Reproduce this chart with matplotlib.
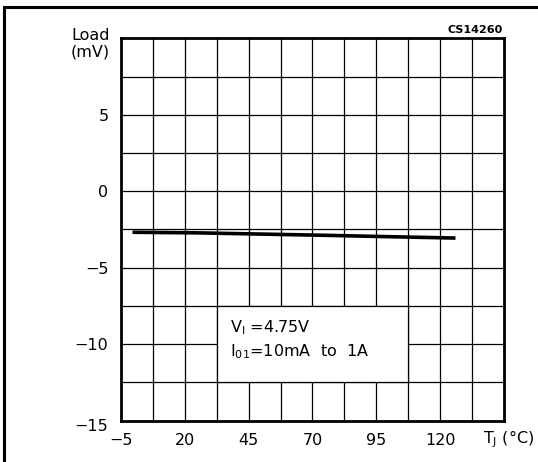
import numpy as np
import matplotlib
matplotlib.use('Agg')
import matplotlib.pyplot as plt
import matplotlib.transforms as mtransforms
from matplotlib.patches import Rectangle

# Load regulation vs junction temperature
tj = [-0.5, 25, 50, 75, 100, 126]
load_mv = [-2.68, -2.72, -2.80, -2.88, -2.97, -3.06]

x_ticks = [-5, 20, 45, 70, 95, 120]
y_ticks = [-15, -10, -5, 0, 5]
x_grid = np.arange(-5, 145.1, 12.5)
y_grid = np.arange(-15, 10.1, 2.5)

plt.rcParams['font.family'] = ['DejaVu Sans']

fig = plt.figure(figsize=(5.38, 4.62), dpi=100)
ax = fig.add_axes([0.2249, 0.0894, 0.9368 - 0.2249, 0.9171 - 0.0894])

# outer frame
fig.patches.append(Rectangle((4 / 538, -0.05), 1.2, (462 - 7) / 462 + 0.05,
                             transform=fig.transFigure, fill=False,
                             edgecolor="black", lw=2.2))

ax.set_xlim(-5, 145)
ax.set_ylim(-15, 10)
for g in x_grid[1:-1]:
    ax.axvline(g, color="black", lw=0.9, zorder=1)
for g in y_grid[1:-1]:
    ax.axhline(g, color="black", lw=0.9, zorder=1)

ax.plot(tj, load_mv, color="black", lw=2.6, solid_capstyle="butt", zorder=3)

# condition box
ax.add_patch(Rectangle((32.5, -12.5), 75, 5, facecolor="white",
                       edgecolor="black", lw=0.9, zorder=4))
ax.text(37.5, -8.9, r"V$_\mathrm{I}$ =4.75V", fontsize=11.5, va="center", zorder=5)
ax.text(37.5, -10.5, r"I$_\mathrm{01}$=10mA  to  1A", fontsize=11.5, va="center", zorder=5)

for s in ax.spines.values():
    s.set_linewidth(2.0)

ax.set_xticks(x_ticks)
ax.set_yticks(y_ticks)
ax.tick_params(length=0, labelsize=11.5, pad=9)
ax.set_xticklabels([str(v).replace('-', '\u2212') for v in x_ticks])
ax.set_yticklabels([str(v).replace('-', '\u2212') for v in y_ticks])

# bottom y label sits a little below the corner
lbl = ax.get_yticklabels()[0]
lbl.set_transform(lbl.get_transform() +
                  mtransforms.ScaledTranslation(0, -4 / 100, fig.dpi_scale_trans))

fig.text(110 / 538, 1 - 44 / 462, "Load\n(mV)", ha="right", va="center",
         fontsize=11.5, linespacing=1.15)
fig.text(503 / 538, 1 - 30 / 462, "CS14260", ha="right", va="center",
         fontsize=8, fontweight="bold")
fig.text(483 / 538, 1 - 439 / 462, r"T$_\mathrm{J}$ (°C)", ha="left", va="center",
         fontsize=11.5)

fig.savefig("out.png", dpi=100)
